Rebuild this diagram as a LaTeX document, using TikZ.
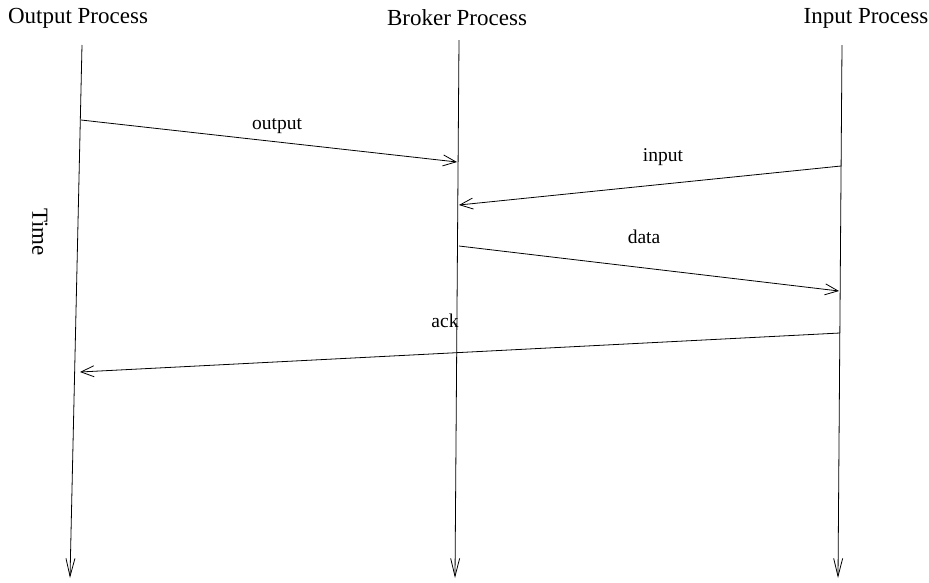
\documentclass[tikz,border=0pt]{standalone}
\usepackage{fontspec}
\setmainfont{Liberation Serif}
\usetikzlibrary{arrows.meta}
\begin{document}
\begin{tikzpicture}[x=1pt,y=-1pt,
  lifeline/.style={line width=0.8pt,-{Straight Barb[length=18pt,width=9pt,line width=0.8pt]}},
  msg/.style={line width=0.8pt,-{Straight Barb[length=13pt,width=11pt,line width=0.8pt]}},
  title/.style={font=\fontsize{23}{26}\selectfont,inner sep=0pt},
  lbl/.style={font=\fontsize{19.5}{22}\selectfont,inner sep=0pt}]
\useasboundingbox (0,0) rectangle (929,582);
% process headings
\node[title] (ho) at (78,18) {Output Process};
\node[title] (hb) at (457,18) {Broker Process};
\node[title] (hi) at (866,18) {Input Process};
% lifelines (top and bottom ends)
\coordinate (ot) at (82,45);  \coordinate (ob) at (70,578);
\coordinate (bt) at (459,40); \coordinate (bb) at (455,578);
\coordinate (it) at (842,45); \coordinate (ib) at (838,578);
\draw[lifeline] (ot) -- (ob);
\draw[lifeline] (bt) -- (bb);
\draw[lifeline] (it) -- (ib);
% time axis label
\node[title,rotate=-90] (time) at (40,232) {Time};
% messages
\coordinate (m1a) at (81,120);  \coordinate (m1b) at (457,162);
\coordinate (m2a) at (841,166); \coordinate (m2b) at (459,205);
\coordinate (m3a) at (459,246); \coordinate (m3b) at (839,291);
\coordinate (m4a) at (840,333); \coordinate (m4b) at (80,372);
\draw[msg] (m1a) -- (m1b);
\draw[msg] (m2a) -- (m2b);
\draw[msg] (m3a) -- (m3b);
\draw[msg] (m4a) -- (m4b);
\node[lbl] (l1) at (277,126) {output};
\node[lbl] (l2) at (663,157) {input};
\node[lbl] (l3) at (644,237) {data};
\node[lbl] (l4) at (445,321) {ack};
\end{tikzpicture}
\end{document}
